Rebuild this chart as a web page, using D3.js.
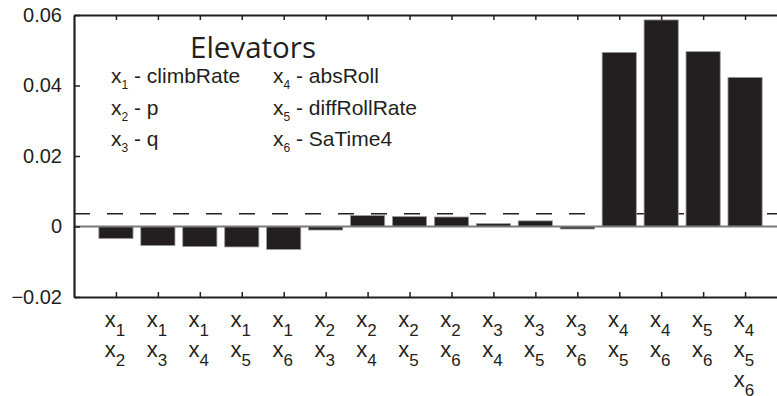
<!DOCTYPE html>
<html>
<head>
<meta charset="utf-8">
<script src="https://cdn.jsdelivr.net/npm/d3@7"></script>
<style>
  body { margin: 0; background: #fff; }
  svg { display: block; }
</style>
</head>
<body>
<svg id="chart" width="777" height="396"></svg>
<script>
// variable index combinations on the x axis
const combos = [
    [1, 2], [1, 3], [1, 4], [1, 5], [1, 6],
    [2, 3], [2, 4], [2, 5], [2, 6],
    [3, 4], [3, 5], [3, 6],
    [4, 5], [4, 6], [5, 6], [4, 5, 6],
];
const values = [
    -0.0034, -0.0054, -0.0057, -0.0058, -0.0065,
    -0.0010, 0.0031, 0.0028, 0.0027,
    0.0008, 0.0016, -0.0007,
    0.0494, 0.0586, 0.0496, 0.0423,
];
const threshold = 0.0036;
const yTicks = [-0.02, 0, 0.02, 0.04, 0.06];
const legendNames = ['climbRate', 'p', 'q', 'absRoll', 'diffRollRate', 'SaTime4'];
const title = 'Elevators';

const ink = '#231f20';
const margin = { left: 74, right: -10, top: 15, bottom: 99 };
const width = 777;
const height = 396;

const svg = d3.select('#chart');

const x = d3.scaleLinear()
    .domain([0, combos.length + 1])
    .range([margin.left, width - margin.right]);

const y = d3.scaleLinear()
    .domain([-0.02, 0.06])
    .range([height - margin.bottom, margin.top]);

const step = x(1) - x(0);
const barW = step * 0.815;

// threshold (dashed) behind the bars
svg.append('line')
    .attr('x1', x(0)).attr('x2', x(combos.length + 1))
    .attr('y1', y(threshold)).attr('y2', y(threshold))
    .attr('stroke', ink)
    .attr('stroke-width', 1.4)
    .attr('stroke-dasharray', '16,17');

svg.append('g')
    .selectAll('rect')
    .data(values)
    .join('rect')
    .attr('x', (d, i) => x(i + 1) - barW / 2)
    .attr('width', barW)
    .attr('y', d => y(Math.max(0, d)))
    .attr('height', d => Math.abs(y(d) - y(0)))
    .attr('fill', ink)
    .attr('stroke', '#9a9a9a')
    .attr('stroke-width', 0.8);

// zero line
svg.append('line')
    .attr('x1', x(0)).attr('x2', x(combos.length + 1))
    .attr('y1', y(0)).attr('y2', y(0))
    .attr('stroke', '#7a7a7a')
    .attr('stroke-width', 1.8);

const idx = d3.range(1, combos.length + 1);

function styleAxis(g) {
    g.select('.domain').attr('stroke', ink).attr('stroke-width', 2.2);
    g.selectAll('.tick line').attr('stroke', ink).attr('stroke-width', 1.5);
}

svg.append('g')
    .attr('transform', `translate(0,${y(0.06)})`)
    .call(d3.axisBottom(x).tickValues(idx).tickSize(5).tickSizeOuter(0).tickFormat(''))
    .call(styleAxis);

svg.append('g')
    .attr('transform', `translate(0,${y(-0.02)})`)
    .call(d3.axisTop(x).tickValues(idx).tickSize(5).tickSizeOuter(0).tickFormat(''))
    .call(styleAxis);

const fmt = d => (d === 0 ? '0' : d3.format('.2f')(d));
svg.append('g')
    .attr('transform', `translate(${x(0)},0)`)
    .call(d3.axisLeft(y).tickValues(yTicks).tickSize(-6).tickSizeOuter(0).tickPadding(12).tickFormat(fmt))
    .call(styleAxis)
    .call(g => g.selectAll('text')
        .attr('fill', ink)
        .style('font', '20px "Liberation Sans", Arial, sans-serif'));

// x labels: stacked x with subscripts
const labels = svg.append('g')
    .style('font-family', '"Liberation Sans", Arial, sans-serif')
    .attr('fill', ink);

combos.forEach((c, i) => {
    c.forEach((v, j) => {
        const t = labels.append('text')
            .attr('x', x(i + 1) - 1)
            .attr('y', 327 + j * 30)
            .attr('text-anchor', 'middle');
        t.append('tspan').style('font-size', '22px').text('x');
        t.append('tspan').style('font-size', '17px').attr('dy', 9).text(v);
    });
});

// legend box
const legend = svg.append('g')
    .attr('fill', ink);

legend.append('text')
    .attr('x', 253)
    .attr('y', 58)
    .attr('text-anchor', 'middle')
    .style('font', '29.5px "Open Sans", sans-serif')
    .text(title);

legendNames.forEach((name, i) => {
    const col = Math.floor(i / 3);
    const row = i % 3;
    const t = legend.append('text')
        .attr('x', col === 0 ? 111 : 273)
        .attr('y', 83 + row * 31.5)
        .style('font-family', '"Liberation Sans", Arial, sans-serif');
    t.append('tspan').style('font-size', '21px').text('x');
    t.append('tspan').style('font-size', '12px').attr('dy', 6).text(i + 1);
    t.append('tspan').style('font-size', '21px').attr('dy', -6).text(` - ${name}`);
});
</script>
</body>
</html>
